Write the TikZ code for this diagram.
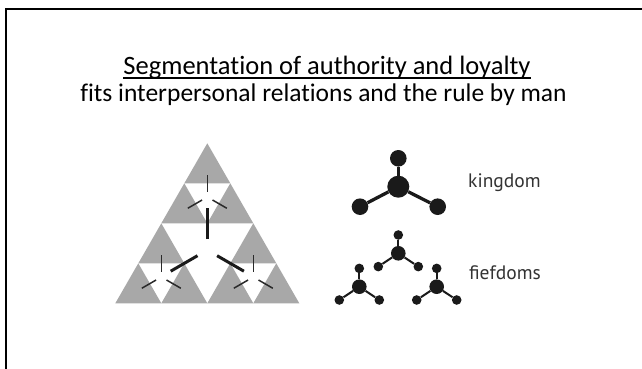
\documentclass[tikz,border=0pt]{standalone}
\usepackage{fontspec}
\setmainfont{Carlito}[Ligatures=NoCommon]
\newfontfamily\labelfont{PT Sans}
\definecolor{trigray}{HTML}{A8A8A8}
\definecolor{ink}{HTML}{1A1A1A}
\definecolor{linkgray}{HTML}{2A2A2A}
\definecolor{labelgray}{HTML}{333333}
\tikzset{
  frameline/.style={line width=2pt, black},
  titletext/.style={inner sep=0pt, anchor=base, font=\fontsize{26.5}{30}\selectfont},
  subtext/.style={inner sep=0pt, anchor=base, font=\fontsize{25.5}{30}\selectfont},
  molelabel/.style={inner sep=0pt, anchor=base west, text=labelgray, font=\labelfont\fontsize{19.5}{22}\selectfont},
  bigball/.style={circle, fill=ink, inner sep=0pt, minimum size=22pt},
  bigend/.style={circle, fill=ink, inner sep=0pt, minimum size=16.6pt},
  smallball/.style={circle, fill=ink, inner sep=0pt, minimum size=14.6pt},
  smallend/.style={circle, fill=ink, inner sep=0pt, minimum size=9.6pt},
  bigbond/.style={line width=3.3pt, ink},
  smallbond/.style={line width=2pt, ink},
  triarm/.style={line width=1.5pt, linkgray},
  bigarm/.style={line width=3pt, ink},
}
\begin{document}
\begin{tikzpicture}[x=1pt,y=-1pt]
\fill[white] (0,0) rectangle (642,369);
\useasboundingbox (0,0) rectangle (642,369);
% frame (only left and top edges fall inside the picture)
\draw[frameline] (6,370) -- (6,9) -- (643,9);
% titles
\node[titletext] (title) at (327,74.3) {Segmentation of authority and loyalty};
\draw[line width=1.3pt] ([yshift=-3.6pt]title.base west) -- ([yshift=-3.6pt]title.base east);
\node[subtext] (sub) at (323.5,101.7) {fits interpersonal relations and the rule by man};
% sierpinski triangle
\foreach \x/\y in {207.3/143.3, 184.3/183.3, 230.3/183.3,
                   161.3/223.3, 138.3/263.3, 184.3/263.3,
                   253.3/223.3, 230.3/263.3, 276.3/263.3}{
  \fill[trigray] (\x,\y) -- ++(-23,40) -- ++(46,0) -- cycle;
}
% small Y marks
\foreach \x/\y in {207.3/197, 161.3/277, 253.3/277}{
  \draw[triarm] (\x,\y) ++(0,-5.5) -- ++(0,-16.5);
  \draw[triarm] (\x,\y) ++(-5.2,3) -- ++(-14.3,8.25);
  \draw[triarm] (\x,\y) ++(5.2,3) -- ++(14.3,8.25);
}
% big Y mark
\draw[bigarm] (207.3,250) ++(0,-11) -- ++(0,-31);
\draw[bigarm] (207.3,250) ++(-9.8,5.7) -- ++(-26.8,15.5);
\draw[bigarm] (207.3,250) ++(9.8,5.7) -- ++(26.8,15.5);
% kingdom molecule
\node[bigend] (k1) at (398.3,158.3) {};
\node[bigend] (k2) at (360,206.7) {};
\node[bigend] (k3) at (437.7,206.7) {};
\node[bigball] (k0) at (398.3,186.7) {};
\draw[bigbond] (k0) -- (k1);
\draw[bigbond] (k0) -- (k2);
\draw[bigbond] (k0) -- (k3);
% fiefdom molecules
\foreach \n/\x/\y in {a/398.3/253.3, b/359.3/286.7, c/436.7/286.7}{
  \node[smallball] (f\n0) at (\x,\y) {};
  \node[smallend] (f\n1) at (\x,\y-18.3) {};
  \node[smallend] (f\n2) at (\x-20,\y+13.3) {};
  \node[smallend] (f\n3) at (\x+20,\y+13.3) {};
  \draw[smallbond] (f\n0) -- (f\n1);
  \draw[smallbond] (f\n0) -- (f\n2);
  \draw[smallbond] (f\n0) -- (f\n3);
}
% labels
\node[molelabel] (kingdom) at (468,187.7) {kingdom};
\node[molelabel] (fiefdoms) at (469,279) {fiefdoms};
\end{tikzpicture}
\end{document}
